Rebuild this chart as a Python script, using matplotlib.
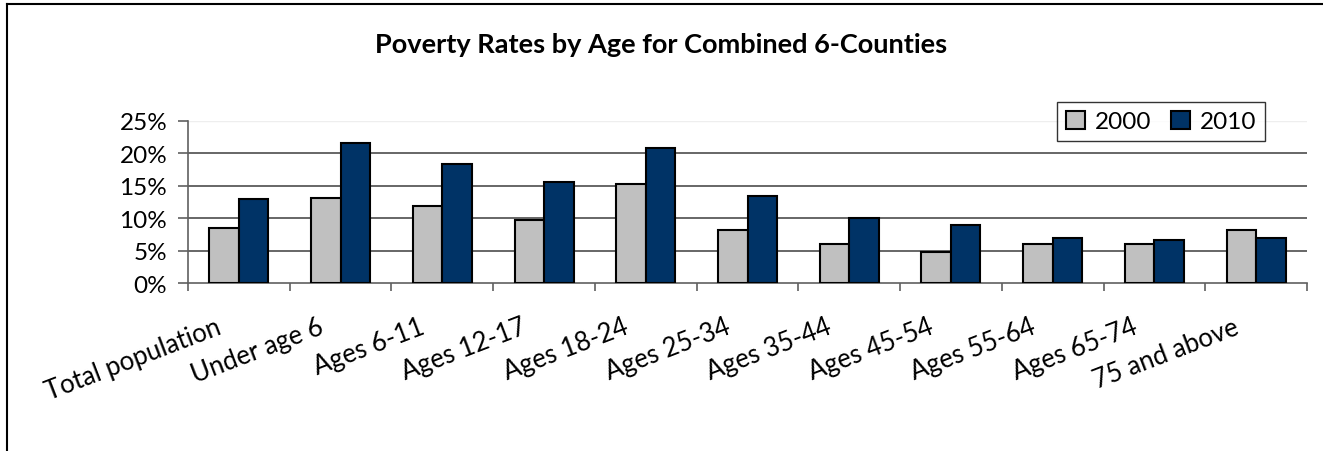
import matplotlib
matplotlib.use("Agg")
import matplotlib.pyplot as plt
from matplotlib.lines import Line2D
from matplotlib.patches import Patch
from matplotlib.transforms import ScaledTranslation
import numpy as np

categories = ["Total population", "Under age 6", "Ages 6-11", "Ages 12-17", "Ages 18-24",
              "Ages 25-34", "Ages 35-44", "Ages 45-54", "Ages 55-64", "Ages 65-74", "75 and above"]
rates_2000 = [8.5, 13.1, 11.9, 9.8, 15.2, 8.2, 6.1, 4.8, 6.1, 6.1, 8.2]
rates_2010 = [12.9, 21.5, 18.4, 15.6, 20.8, 13.4, 10.1, 8.9, 7.0, 6.7, 7.0]
series_labels = ["2000", "2010"]
yticks = [0, 5, 10, 15, 20, 25]
ytick_labels = ["0%", "5%", "10%", "15%", "20%", "25%"]
title = "Poverty Rates by Age for Combined 6-Counties"

plt.rcParams['font.family'] = ['Lato', 'DejaVu Sans']

W, H = 1323, 452
fig = plt.figure(figsize=(W / 100, H / 100), dpi=100)
ax = fig.add_axes([188 / W, 1 - 284.3 / H, (1307 - 188) / W, (284.3 - 121.7) / H])

x = np.arange(len(categories))
bw = 0.29
c2000 = "#C0C0C0"
c2010 = "#003366"
ax.bar(x - bw / 2, rates_2000, bw, color=c2000, edgecolor="black", linewidth=1.5, zorder=3)
ax.bar(x + bw / 2, rates_2010, bw, color=c2010, edgecolor="black", linewidth=1.5, zorder=3)

ax.set_xlim(-0.5, len(categories) - 0.5)
ax.set_ylim(0, 25)
ax.set_yticks(yticks)
ax.set_yticklabels(ytick_labels, fontsize=17.5)
for v in yticks[1:-1]:
    ax.axhline(v, color="#4d4d4d", linewidth=1.2, zorder=1)
ax.axhline(25, color="#eeeeee", linewidth=1.0, zorder=1)

for s in ["top", "right"]:
    ax.spines[s].set_visible(False)
for s in ["left", "bottom"]:
    ax.spines[s].set_color("#606060")
    ax.spines[s].set_linewidth(1.2)

ax.tick_params(axis="y", direction="out", length=7, width=1.2, color="#606060", pad=8)
ax.set_xticks(x)
ax.set_xticklabels(categories, rotation=21, ha="right", va="top", rotation_mode="anchor", fontsize=18.5)
ax.tick_params(axis="x", which="major", length=0, pad=22)
shift = ScaledTranslation(-23 / 100, 0, fig.dpi_scale_trans)
for lbl in ax.get_xticklabels():
    lbl.set_transform(lbl.get_transform() + shift)
ax.set_xticks(np.arange(-0.5, len(categories) + 0.5, 1), minor=True)
ax.tick_params(axis="x", which="minor", direction="out", length=6, width=1.2, color="#606060")

fig.text(0.5, 1 - 45 / H, title, ha="center", va="center", fontsize=19.5, fontweight="bold")

handles = [Patch(facecolor=c2000, edgecolor="black", linewidth=1.5),
           Patch(facecolor=c2010, edgecolor="black", linewidth=1.5)]
leg = ax.legend(handles, series_labels, ncol=2, loc="upper left",
                bbox_to_anchor=(0.7766, 1.115), fontsize=17.5, frameon=True, fancybox=False,
                edgecolor="black", handlelength=0.8, handleheight=0.8, handletextpad=0.4,
                columnspacing=0.8, borderpad=0.35, borderaxespad=0)
leg.get_frame().set_linewidth(1.0)

# outer chart border (left and top visible)
fig.add_artist(Line2D([6.5 / W, 6.5 / W], [0, 1 - 5 / H], color="black", linewidth=1.5, transform=fig.transFigure))
fig.add_artist(Line2D([6.5 / W, 1.0], [1 - 5 / H, 1 - 5 / H], color="black", linewidth=1.5, transform=fig.transFigure))

fig.savefig("out.png", dpi=100)
